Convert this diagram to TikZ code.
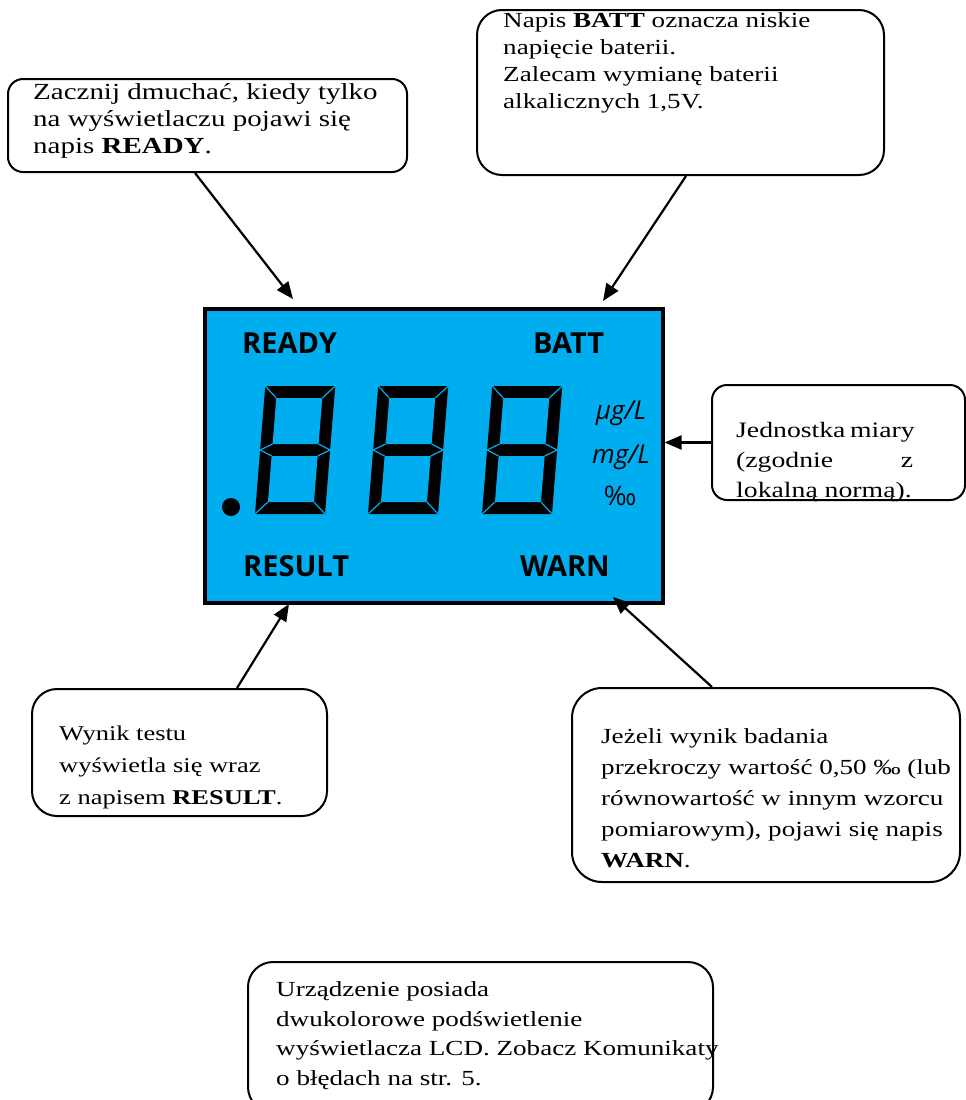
\documentclass[tikz,border=0pt]{standalone}
\usepackage{fontspec}
\setmainfont{Liberation Serif}[FakeStretch=1.26]
\newfontfamily\lcdfont{Open Sans}
\usetikzlibrary{arrows.meta,calc}

\definecolor{lcdblue}{RGB}{0,174,239}

\tikzset{
  callout/.style={draw, line width=2pt, inner sep=0pt},
  note/.style={anchor=base west, align=left, inner sep=0pt, font=\fontsize{21.5}{27}\selectfont},
  lcdlabel/.style={anchor=base west, inner sep=0pt, font=\lcdfont\bfseries\fontsize{29}{30}\selectfont},
  unit/.style={anchor=base, inner sep=0pt, font=\lcdfont\itshape\fontsize{26}{28}\selectfont},
  pointer/.style={line width=2.2pt, -{Triangle[length=17pt,width=14pt]}},
}

% one 7-segment digit, bottom-left corner at (#1,#2)
\newcommand{\lcddigit}[2]{%
  \begin{scope}[shift={(#1,#2)}, yscale=-1, xslant=-0.08]
    \fill[black] (0,0) rectangle (70,128);
    \fill[lcdblue] (12,12) rectangle (58,58);
    \fill[lcdblue] (12,70) rectangle (58,116);
    \draw[lcdblue, line width=1.2pt] (0,0) -- (12,12) (70,0) -- (58,12)
      (0,128) -- (12,116) (70,128) -- (58,116)
      (12,58) -- (0,64) -- (12,70) (58,58) -- (70,64) -- (58,70);
  \end{scope}}

\begin{document}
\begin{tikzpicture}[x=1pt, y=-1pt]
  \useasboundingbox (0,0) rectangle (966,1100);

  % display
  \node[draw, fill=lcdblue, line width=3.2pt, minimum width=458pt, minimum height=294pt] at (434,456) (lcd) {};
  \node[lcdlabel] at (242,353) (lready) {READY};
  \node[lcdlabel] at (533,353) (lbatt) {BATT};
  \node[lcdlabel] at (243,576) (lresult) {RESULT};
  \node[lcdlabel] at (520,576) (lwarn) {WARN};
  \fill[black] (231,507) circle (9);
  \lcddigit{255}{514}
  \lcddigit{368}{514}
  \lcddigit{482}{514}
  \node[unit] at (621,419) (ugl) {µg/L};
  \node[unit] at (621,463) (mgl) {mg/L};
  \node[unit, font=\lcdfont\fontsize{27}{28}\selectfont] at (620,505) (pml) {‰};

  % callouts
  \node[callout, rounded corners=15pt, minimum width=399pt, minimum height=93pt] at (207.5,125.5) (readybox) {};
  \node[note, font=\fontsize{23}{27}\selectfont] at (33,153) (readytxt) {Zacznij dmuchać, kiedy tylko\\na wyświetlaczu pojawi się\\napis \textbf{READY}.};

  \node[callout, rounded corners=25pt, minimum width=407pt, minimum height=165pt] at (680.5,92.5) (battbox) {};
  \node[note] at (503,108) (batttxt) {Napis \textbf{BATT} oznacza niskie\\napięcie baterii.\\Zalecam wymianę baterii\\alkalicznych 1,5V.};

  \node[callout, rounded corners=15pt, minimum width=253pt, minimum height=115pt] at (838.5,442.5) (unitbox) {};
  \node[note, font=\fontsize{22}{30}\selectfont] at (736,497) (unittxt) {\makebox[177pt][s]{Jednostka miary}\\\makebox[177pt][s]{(zgodnie z}\\lokalną normą).};

  \node[callout, rounded corners=25pt, minimum width=295pt, minimum height=127pt] at (179.5,752.5) (resultbox) {};
  \node[note, font=\fontsize{21}{32}\selectfont] at (59,804) (resulttxt) {Wynik testu\\wyświetla się wraz\\z napisem \textbf{RESULT}.};

  \node[callout, rounded corners=30pt, minimum width=388pt, minimum height=194pt] at (766,785) (warnbox) {};
  \node[note, font=\fontsize{21.5}{31}\selectfont] at (601,867) (warntxt) {Jeżeli wynik badania\\przekroczy wartość 0,50 ‰ (lub\\równowartość w innym wzorcu\\pomiarowym), pojawi się napis\\\textbf{WARN}.};

  \node[callout, rounded corners=25pt, minimum width=465pt, minimum height=150pt] at (480.5,1037) (infobox) {};
  \node[note, font=\fontsize{21.5}{29.5}\selectfont] at (276,1085) (infotxt) {Urządzenie posiada\\dwukolorowe podświetlenie\\wyświetlacza LCD. Zobacz Komunikaty\\o błędach na str. 5.};

  % pointers
  \coordinate (readytip) at (293,299);
  \coordinate (batttip) at (603,301);
  \coordinate (resulttip) at (289,604);
  \coordinate (warntip) at (613,597);
  \draw[pointer] ($(readybox.south west)+(188,0)$) -- (readytip);
  \draw[pointer] ($(battbox.south west)+(210,0)$) -- (batttip);
  \draw[pointer] (unitbox.west) -- (unitbox.west -| lcd.east);
  \draw[pointer] ($(resultbox.north west)+(206,0)$) -- (resulttip);
  \draw[pointer] ($(warnbox.north west)+(141,0)$) -- (warntip);
\end{tikzpicture}
\end{document}
